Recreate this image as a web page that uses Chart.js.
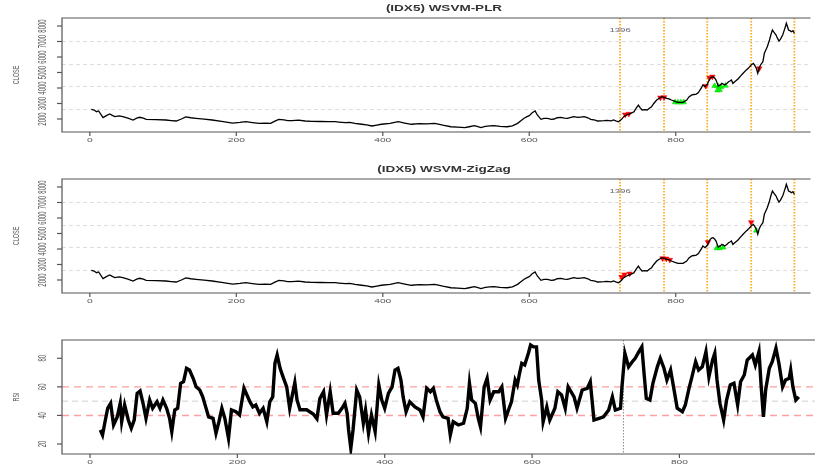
<!DOCTYPE html>
<html lang="en">
<head>
<meta charset="UTF-8">
<title>(IDX5) WSVM</title>
<script src="https://cdn.jsdelivr.net/npm/chart.js@4"></script>
<style>
  body { margin: 0; background: #fff; }
  #wrap { position: relative; width: 815px; height: 471px; overflow: hidden; }
  canvas { position: absolute; left: 0; }
</style>
</head>
<body>
<div id="wrap">
  <canvas id="plr" width="815" height="160" style="top:0"></canvas>
  <canvas id="zz" width="815" height="160" style="top:161px"></canvas>
  <canvas id="rsi" width="815" height="151" style="top:320px"></canvas>
</div>
<script>
// ---- data ----
const closeX = [2,6,9,12,18,22,27,30,34,40,45,52,59,64,68,73,77,90,104,111,118,125,131,138,145,156,167,180,195,205,213,222,231,240,247,252,258,265,270,276,285,294,303,315,326,335,340,349,355,362,371,378,385,392,398,410,421,430,439,450,460,471,482,493,502,512,518,525,530,534,540,546,552,560,570,577,584,589,593,597,600,604,608,611,616,620,625,630,634,638,643,648,652,657,661,666,670,675,680,684,690,693,698,702,706,712,715,719,722,726,729,733,736,740,743,746,749,751,754,758,761,764,767,770,774,778,781,784,788,791,794,798,803,807,810,815,818,822,825,828,831,833,835,837,840,843,845,847,849,851,853,855,858,861,863,867,870,872,874,876,878,881,885,889,892,896,899,903,906,908,910,912,914,916,919,921,923,925,928,930,932,934,937,939,941,943,946,948,950,951,953,954,956,958,960,962];
const closeY = [2626,2580,2470,2516,2085,2200,2320,2250,2150,2200,2150,2050,1935,2050,2110,2050,1980,1960,1935,1900,1870,2000,2130,2080,2045,1990,1935,1850,1740,1780,1825,1770,1720,1730,1720,1850,1980,1940,1900,1890,1930,1870,1850,1840,1825,1825,1800,1760,1780,1720,1660,1620,1550,1610,1660,1720,1825,1740,1660,1700,1680,1720,1600,1500,1480,1440,1500,1570,1500,1440,1520,1560,1570,1520,1500,1560,1720,1900,2045,2150,2215,2400,2515,2260,1980,2040,2045,1980,2000,2080,2110,2050,2045,2110,2150,2100,2120,2150,2080,1980,1920,1870,1880,1890,1915,1880,1935,1870,1825,1980,2150,2260,2320,2400,2470,2700,2900,2750,2580,2600,2580,2700,2795,3000,3225,3350,3440,3400,3335,3300,3225,3150,3075,3070,3075,3225,3420,3550,3580,3610,3700,3870,4000,4195,4085,4240,4450,4625,4700,4730,4650,4515,4130,4200,4300,4195,4300,4405,4450,4515,4300,4420,4580,4800,4950,5150,5270,5485,5590,5450,5270,4950,5310,5500,5700,6240,6450,6665,7100,7450,7740,7600,7420,7200,7030,7150,7420,7700,8000,8175,7900,7740,7700,7630,7700,7530];

const rsiX = [14,17,20,24,28,32,37,41,43,47,52,56,60,64,68,72,76,81,85,91,95,99,104,108,111,115,119,123,127,131,135,140,144,149,153,157,161,167,171,175,179,183,188,192,198,203,209,213,217,221,225,230,235,240,244,248,251,254,258,262,267,271,278,281,285,294,303,308,312,317,321,326,330,337,342,346,349,351,354,357,362,366,371,374,378,382,387,392,396,400,405,410,414,418,422,425,429,434,441,448,452,457,462,466,470,475,479,486,489,493,500,507,512,515,518,523,527,530,535,539,543,548,555,559,564,568,572,577,580,583,586,590,595,598,602,606,609,613,615,620,624,631,635,640,645,649,657,661,668,675,679,684,691,697,704,709,713,720,722,726,731,736,740,745,749,752,755,760,764,770,774,779,783,788,792,797,804,808,813,817,822,826,831,836,840,845,848,851,855,860,864,869,874,879,883,888,892,899,903,908,911,914,917,922,926,931,935,940,944,949,951,954,958,962];
const rsiY = [29.8,26.3,34.5,45,48.5,33.3,39,48.5,35.6,47.3,36.8,31,36.8,55.5,57.1,48.5,38,50.8,45,49.6,45,50.8,45,38,28.6,43.8,45,62.5,63.6,73,71.8,66,60,57.8,53,46,39,38,27.5,35.6,45,38,24,43.8,42.6,40.3,59,54.3,49.6,46,47.3,41.5,45,35.6,49.6,53,76.5,82.3,73,67,60,45,63,50.8,44,44,41,37.6,51.9,56.6,40.3,56.6,41.5,41.5,45,48.5,41.5,29.8,17,29.8,57.8,53,34.5,43.8,27.5,40.3,28.7,61.3,50.8,45,55.5,60,71.8,73,64.8,53,42.6,49.6,46,43.8,39,59,56.6,59,50.8,42.6,39,38,26.3,35.6,33.3,34.5,45,62.5,50.8,48.5,38,32,60,66,50.8,56.6,56.6,60,38,43.8,49.6,64.8,61.3,69.5,76.5,75.3,83.5,89.3,88,88,64.8,50.8,35.6,46,36.8,45,56.6,54.3,45,60,53,45,57.8,59,63.6,36.8,38,39,43.8,53,43.8,45,60,83.5,74,77.6,80,84.7,88,69.5,52,50.8,62.5,74,80,73,64.8,71.8,60,45,42.6,47.3,59,67,77.6,71.8,74,84.7,67,78.8,83.5,64.8,48.5,36.8,50.8,61.3,62.5,47.3,63.6,68.3,78.8,82.3,75.3,84.7,60,39,57.8,73,77.6,87,76.5,60,64.8,66,71.8,60,50.8,53];

// trade signals, PLR panel
const plrSellX = [731,736,779,784,841,846,850,914];
const plrSellY = [2280,2330,3380,3400,4130,4650,4730,5260];
const plrBuyX = [799,803,807,811,853,858,862,868,857,860];
const plrBuyY = [3080,3075,3075,3080,4130,4100,4070,4150,3850,3870];
// trade signals, ZigZag panel
const zzSellX = [726,730,737,782,787,792,844,903];
const zzSellY = [2195,2350,2410,3400,3375,3300,4440,5725];
const zzBuyX = [856,860,865,910];
const zzBuyY = [4050,4055,4100,5190];

const xTicks = [0, 200, 400, 600, 800];
const closeTicks = [2000, 3000, 4000, 5000, 6000, 7000, 8000];
const rsiTicks = [20, 40, 60, 80];
const rsiBands = [40, 60];
const rsiMid = 50;
const periodLines = [724, 784, 843, 903, 962];
const testStart = 724;
const testLabel = '1396';

// ---- helpers ----
function pts(xs, ys) { return xs.map((x, i) => ({ x: x, y: ys[i] })); }

function stretchText(ctx, txt, x, y, sx, rot) {
  ctx.save();
  ctx.translate(x, y);
  ctx.scale(sx, 1);
  if (rot) ctx.rotate(-Math.PI / 2);
  ctx.fillText(txt, 0, 0);
  ctx.restore();
}

function rFrame(cfg) {
  return {
    id: 'rFrame',
    beforeDatasetsDraw(chart) {
      const { ctx, chartArea: a, scales: { x, y } } = chart;
      ctx.save();
      if (cfg.gridRows) {
        ctx.strokeStyle = '#dedede';
        ctx.lineWidth = 1;
        ctx.setLineDash([4, 3]);
        for (let k = 1; k < cfg.gridRows; k++) {
          const py = Math.round(a.top + (a.bottom - a.top) * k / cfg.gridRows) + 0.5;
          ctx.beginPath(); ctx.moveTo(a.left, py); ctx.lineTo(a.right, py); ctx.stroke();
        }
      }
      (cfg.hlines || []).forEach(h => {
        ctx.strokeStyle = h.color;
        ctx.lineWidth = h.width;
        ctx.setLineDash(h.dash);
        const py = y.getPixelForValue(h.value);
        ctx.beginPath(); ctx.moveTo(a.left, py); ctx.lineTo(a.right, py); ctx.stroke();
      });
      (cfg.vlines || []).forEach(v => {
        ctx.strokeStyle = v.color;
        ctx.lineWidth = v.width;
        ctx.setLineDash(v.dash);
        const px = x.getPixelForValue(v.value);
        ctx.beginPath(); ctx.moveTo(px, a.top); ctx.lineTo(px, a.bottom); ctx.stroke();
      });
      ctx.restore();
    },
    afterDraw(chart) {
      const { ctx, chartArea: a, scales: { x, y } } = chart;
      ctx.save();
      // box (right side is off the picture)
      ctx.strokeStyle = '#555';
      ctx.lineWidth = 1.2;
      ctx.beginPath();
      ctx.moveTo(a.right, a.top); ctx.lineTo(a.left, a.top);
      ctx.lineTo(a.left, a.bottom); ctx.lineTo(a.right, a.bottom);
      ctx.stroke();
      // x ticks
      ctx.fillStyle = '#555';
      ctx.font = '6px "Liberation Sans", Arial, sans-serif';
      ctx.textAlign = 'center';
      ctx.textBaseline = 'middle';
      xTicks.forEach(t => {
        const px = x.getPixelForValue(t);
        ctx.beginPath(); ctx.moveTo(px, a.bottom); ctx.lineTo(px, a.bottom + 4); ctx.stroke();
        stretchText(ctx, String(t), px, a.bottom + 8.5, 1.7, false);
      });
      // y ticks, labels turned like R's default
      cfg.yTicks.forEach(t => {
        const py = y.getPixelForValue(t);
        ctx.beginPath(); ctx.moveTo(a.left, py); ctx.lineTo(a.left - 5, py); ctx.stroke();
        stretchText(ctx, String(t), a.left - 19, py, 1.8, true);
      });
      // axis title
      ctx.font = '5.5px "Liberation Sans", Arial, sans-serif';
      stretchText(ctx, cfg.ylabel, 16, (a.top + a.bottom) / 2, 1.7, true);
      // main title
      if (cfg.title) {
        ctx.fillStyle = '#333';
        ctx.font = 'bold 9px "Liberation Sans", Arial, sans-serif';
        stretchText(ctx, cfg.title, 444, 9, 1.5, false);
      }
      // split label
      if (cfg.note) {
        ctx.fillStyle = '#667';
        ctx.font = '6px "Liberation Sans", Arial, sans-serif';
        stretchText(ctx, cfg.note, x.getPixelForValue(testStart), a.top + 12, 1.6, false);
      }
      ctx.restore();
    }
  };
}

const xScale = { type: 'linear', display: false, min: -38, max: 984 };

function closeChart(id, title, sellX, sellY, buyX, buyY) {
  return new Chart(document.getElementById(id), {
    type: 'line',
    data: {
      datasets: [
        { data: pts(closeX, closeY), borderColor: '#000', borderWidth: 1.3, pointRadius: 0, tension: 0 },
        { data: pts(sellX, sellY), showLine: false, pointStyle: 'triangle', rotation: 180, pointRadius: 3.2,
          backgroundColor: '#ff0000', borderColor: '#ee0000', borderWidth: 0.5 },
        { data: pts(buyX, buyY), showLine: false, pointStyle: 'triangle', pointRadius: 3.2,
          backgroundColor: '#00ff00', borderColor: '#00cc00', borderWidth: 0.5 }
      ]
    },
    options: {
      responsive: false, animation: false, devicePixelRatio: 1,
      layout: { padding: { left: 62, top: 18, right: 0, bottom: 28 } },
      plugins: { legend: { display: false }, tooltip: { enabled: false } },
      scales: { x: xScale, y: { type: 'linear', display: false, min: 1161, max: 8516 } }
    },
    plugins: [rFrame({
      title: title, ylabel: 'CLOSE', yTicks: closeTicks, gridRows: 5, note: testLabel,
      vlines: periodLines.map(v => ({ value: v, color: '#ffad20', width: 1.8, dash: [1.5, 1.5] }))
    })]
  });
}

closeChart('plr', '(IDX5) WSVM-PLR', plrSellX, plrSellY, plrBuyX, plrBuyY);
closeChart('zz', '(IDX5) WSVM-ZigZag', zzSellX, zzSellY, zzBuyX, zzBuyY);

new Chart(document.getElementById('rsi'), {
  type: 'line',
  data: {
    datasets: [
      { data: pts(rsiX, rsiY), borderColor: '#000', borderWidth: 3.4, pointRadius: 0, tension: 0,
        borderJoinStyle: 'miter' }
    ]
  },
  options: {
    responsive: false, animation: false, devicePixelRatio: 1,
    layout: { padding: { left: 62, top: 20, right: 0, bottom: 17 } },
    plugins: { legend: { display: false }, tooltip: { enabled: false } },
    scales: { x: xScale, y: { type: 'linear', display: false, min: 13, max: 92.8 } }
  },
  plugins: [rFrame({
    ylabel: 'RSI', yTicks: rsiTicks,
    hlines: rsiBands.map(v => ({ value: v, color: '#ff9f9f', width: 1.4, dash: [7, 5] }))
      .concat([{ value: rsiMid, color: '#cfcfcf', width: 1, dash: [6, 4] }]),
    vlines: [{ value: testStart, color: '#888', width: 1, dash: [1.5, 1.5] }]
  })]
});
</script>
</body>
</html>
